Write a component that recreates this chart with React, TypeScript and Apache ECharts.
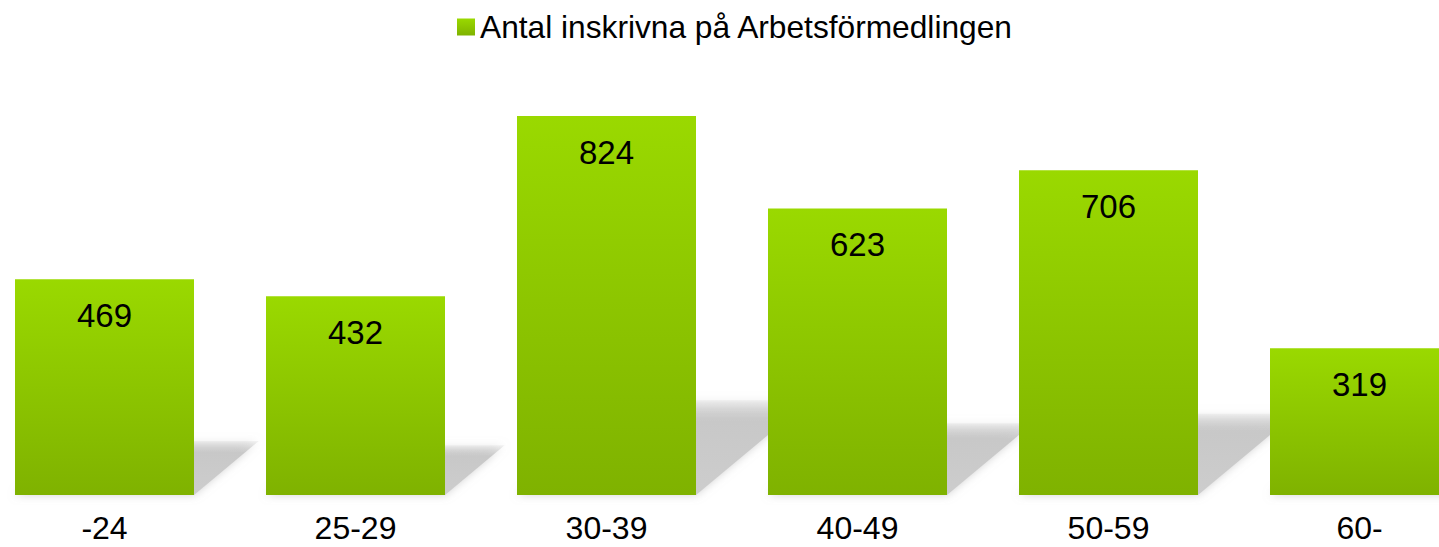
import React, { useEffect, useRef } from "react";
import * as echarts from "echarts";

const categories = ["-24", "25-29", "30-39", "40-49", "50-59", "60-"];
const values = [469, 432, 824, 623, 706, 319];
const seriesName = "Antal inskrivna på Arbetsförmedlingen";

const FONT = "Arial, 'Liberation Sans', sans-serif";
const OFFSET_L = 21;
const INNER_W = 1506;

export default function App() {
  const ref = useRef<HTMLDivElement>(null);
  useEffect(() => {
    if (!ref.current) return;
    const chart = echarts.init(ref.current, undefined, { renderer: "svg" });
    const barGrad = new echarts.graphic.LinearGradient(0, 0, 0, 1, [
      { offset: 0, color: "#9ad900" },
      { offset: 1, color: "#7fb200" },
    ]);
    const BAR_W = 179;
    chart.setOption({
      animation: false,
      backgroundColor: "#ffffff",
      legend: {
        data: [seriesName],
        left: 452 + OFFSET_L,
        top: 6,
        itemWidth: 18,
        itemHeight: 17,
        itemGap: 10,
        icon: "rect",
        textStyle: { fontSize: 31.7, color: "#000", fontFamily: FONT },
      },
      grid: { left: 0, right: 0, top: 35, bottom: 52 },
      xAxis: {
        type: "category",
        data: categories,
        axisLine: { show: false },
        axisTick: { show: false },
        axisLabel: {
          fontSize: 32,
          lineHeight: 26,
          color: "#000",
          fontFamily: FONT,
          margin: 20,
        },
      },
      yAxis: {
        type: "value",
        min: 0,
        max: 1000,
        show: false,
        splitLine: { show: false },
      },
      series: [
        {
          type: "custom",
          name: "shadow",
          z: 1,
          silent: true,
          data: values.map((v, i) => [i, v]),
          renderItem: (params: any, api: any) => {
            const i = api.value(0);
            const v = api.value(1);
            const base = api.coord([i, 0]);
            const top = api.coord([i, v]);
            const h = base[1] - top[1];
            const L = base[0] - BAR_W / 2;
            const R = base[0] + BAR_W / 2;
            const dy = h * 0.25;
            const dx = h * 0.3;
            return {
              type: "polygon",
              shape: {
                points: [
                  [L, base[1]],
                  [R, base[1]],
                  [R + dx, base[1] - dy],
                  [L + dx, base[1] - dy],
                ],
              },
              style: {
                fill: new echarts.graphic.LinearGradient(0, 0, 0, 1, [
                  { offset: 0, color: "rgba(200,200,200,0.2)" },
                  { offset: 0.22, color: "rgba(200,200,200,1)" },
                  { offset: 1, color: "rgba(205,205,205,1)" },
                ]),
                shadowBlur: 8,
                shadowColor: "rgba(200,200,200,0.8)",
              },
            };
          },
        },
        {
          type: "bar",
          name: seriesName,
          z: 3,
          data: values,
          barWidth: BAR_W,
          itemStyle: { color: barGrad },
          label: {
            show: true,
            position: "insideTop",
            distance: 20,
            fontSize: 33,
            color: "#000",
            fontFamily: FONT,
          },
        },
      ],
    });
    return () => chart.dispose();
  }, []);
  return (
    <div
      style={{
        position: "absolute",
        left: 0,
        top: 0,
        width: 1439,
        height: 547,
        overflow: "hidden",
        background: "#fff",
      }}
    >
      <div
        ref={ref}
        style={{
          position: "absolute",
          left: -OFFSET_L,
          top: 0,
          width: INNER_W,
          height: 547,
        }}
      />
    </div>
  );
}
